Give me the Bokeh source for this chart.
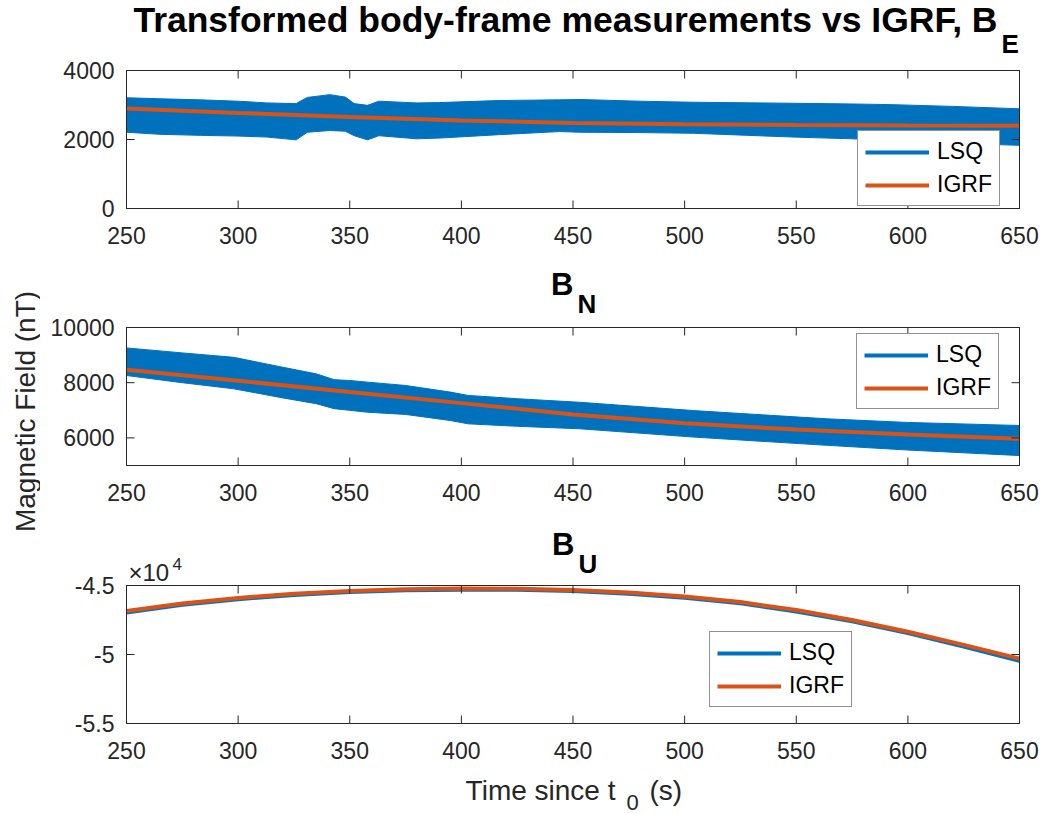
import numpy as np
from bokeh.plotting import figure
from bokeh.layouts import row, column
from bokeh.models import Label, Legend, LegendItem, Range1d, ColumnDataSource
from bokeh.embed import file_html
from bokeh.resources import INLINE

# ---------------- data ----------------
x_ticks = [250, 300, 350, 400, 450, 500, 550, 600, 650]

# B_E : LSQ envelope (upper / lower edge of the dense oscillation)
e_band_t = [250, 265, 283, 300, 313, 326, 331, 341, 348, 352, 358, 363, 380,
            390, 417, 444, 453, 480, 504, 549, 575, 593, 620, 650]
e_band_hi = [3210, 3180, 3150, 3110, 3060, 3040, 3220, 3300, 3230, 3040, 2990,
             3110, 3060, 3070, 3130, 3150, 3160, 3110, 3080, 3050, 3030, 3010,
             2960, 2890]
e_band_lo = [2210, 2150, 2120, 2100, 2070, 1990, 2210, 2260, 2240, 2110, 1990,
             2110, 2020, 2040, 2140, 2230, 2210, 2200, 2180, 2070, 2020, 1970,
             1900, 1830]
igrf_t = [250, 300, 350, 400, 450, 500, 550, 600, 650]
igrf_e = [2900, 2770, 2650, 2550, 2480, 2440, 2420, 2405, 2395]

# B_N
n_band_t = [250, 275, 298, 320, 335, 343, 350, 358, 375, 395, 403, 425, 453,
            504, 564, 600, 650]
n_band_hi = [9260, 9080, 8920, 8560, 8320, 8110, 8080, 8020, 7900, 7660, 7540,
             7420, 7290, 6990, 6690, 6560, 6450]
n_band_lo = [8260, 8000, 7780, 7450, 7240, 7060, 7000, 6930, 6850, 6630, 6510,
             6420, 6330, 6030, 5730, 5560, 5360]
igrf_n = [8470, 8070, 7660, 7260, 6850, 6530, 6300, 6120, 5970]

# B_U
u_t = [250, 275, 300, 325, 350, 375, 400, 425, 450, 475, 500, 525, 550, 575,
       600, 625, 650]
lsq_u = [-46950, -46390, -45990, -45690, -45480, -45350, -45300, -45310,
         -45400, -45590, -45880, -46290, -46880, -47600, -48450, -49420, -50450]
igrf_u = [-46850, -46300, -45900, -45600, -45400, -45270, -45220, -45230,
          -45320, -45500, -45790, -46200, -46780, -47500, -48350, -49300, -50300]

e_ticks = [0, 2000, 4000]
e_tick_labels = ["0", "2000", "4000"]
n_ticks = [6000, 8000, 10000]
n_tick_labels = ["6000", "8000", "10000"]
u_ticks = [-55000, -50000, -45000]
u_tick_labels = ["-5.5", "-5", "-4.5"]

# ---------------- styling ----------------
BLUE = "#0072BD"
ORANGE = "#D95319"
AX = "#262626"
FONT = "Liberation Sans"
TICK = 23
RIGHT_W = 1002
LEFT_W = 40
X0, X1 = 126, 1019          # page x of the axes box
XMIN, XMAX = 250, 650
FRAME_H = 138               # page height of each axes box
TICK_LEN = 8


class Panel:
    """One subplot; its drawing frame fills the whole canvas, and the axes box,
    ticks, tick labels and titles are drawn inside it."""

    def __init__(self, page_top, box_top, height, ymin, ymax):
        self.page_top = page_top
        self.page_bottom = page_top + height
        self.box_top = box_top
        self.box_bottom = box_top + FRAME_H
        self.ymin, self.ymax = ymin, ymax
        self.upp = (ymax - ymin) / FRAME_H
        self.xpp = (XMAX - XMIN) / (X1 - X0)
        p = figure(width=RIGHT_W, height=height,
                   x_range=Range1d(self.xd(LEFT_W), self.xd(LEFT_W + RIGHT_W)),
                   y_range=Range1d(self.yd(self.page_bottom), self.yd(page_top)),
                   output_backend="svg", toolbar_location=None, min_border=0)
        try:
            p.title_location = None
        except Exception:
            p.title.text = ""
        p.axis.visible = False
        p.grid.visible = False
        p.outline_line_color = None
        self.p = p

    def xd(self, px):
        return XMIN + (px - X0) * (XMAX - XMIN) / (X1 - X0)

    def yd(self, py):
        return self.ymin + (self.box_bottom - py) * (self.ymax - self.ymin) / FRAME_H

    def px_of(self, t):
        return X0 + (t - XMIN) / self.xpp

    def py_of(self, v):
        return self.box_bottom - (v - self.ymin) / self.upp

    def text(self, px, py_mid, txt, size, bold=False, align="left",
             color="#000000"):
        self.p.add_layout(Label(x=self.xd(px), y=self.yd(py_mid), text=txt,
                                text_font=FONT, text_font_size=f"{size}px",
                                text_font_style="bold" if bold else "normal",
                                text_align=align, text_baseline="middle",
                                text_color=color))

    def text_bl(self, px, py_base, txt, size, **kw):
        # place by (approximate) alphabetic baseline
        self.text(px, py_base - 0.35 * size, txt, size, **kw)

    def axes_box(self, yticks, ylabels):
        p = self.p
        n = len(x_ticks)
        m = len(yticks)
        dy = TICK_LEN * self.upp
        dx = TICK_LEN * self.xpp
        p.segment(x0=x_ticks, x1=x_ticks, y0=[self.ymax] * n,
                  y1=[self.ymax - dy] * n, line_color=AX, line_width=1)
        p.segment(x0=x_ticks, x1=x_ticks, y0=[self.ymin] * n,
                  y1=[self.ymin + dy] * n, line_color=AX, line_width=1)
        p.segment(x0=[XMIN] * m, x1=[XMIN + dx] * m, y0=yticks, y1=yticks,
                  line_color=AX, line_width=1)
        p.segment(x0=[XMAX] * m, x1=[XMAX - dx] * m, y0=yticks, y1=yticks,
                  line_color=AX, line_width=1)
        p.quad(left=[XMIN], right=[XMAX], bottom=[self.ymin], top=[self.ymax],
               fill_color=None, line_color=AX, line_width=1)
        for t in x_ticks:
            self.text(self.px_of(t), self.box_bottom + 27, str(t), TICK,
                      align="center", color=AX)
        for v, lab in zip(yticks, ylabels):
            self.text(X0 - 12, self.py_of(v), lab, TICK, align="right",
                      color=AX)

    def legend(self, r_lsq, r_igrf, left_px, bottom_px):
        loc = (left_px - LEFT_W, self.page_bottom - bottom_px)
        lg = Legend(items=[LegendItem(label="LSQ", renderers=[r_lsq]),
                           LegendItem(label="IGRF", renderers=[r_igrf])],
                    location=loc, margin=0, padding=7, spacing=6,
                    glyph_width=64, glyph_height=26, label_height=26,
                    label_standoff=8, label_text_font=FONT,
                    label_text_font_size="23px", label_text_color="#000000",
                    border_line_color=AX, border_line_width=1,
                    background_fill_color="white", background_fill_alpha=1.0)
        self.p.add_layout(lg)


# ---------------- B_E ----------------
P1 = Panel(0, 70, 262, 0, 4000)
f1 = P1.p
src_e = ColumnDataSource(dict(t=e_band_t, hi=e_band_hi, lo=e_band_lo,
                              mid=[(a + b) / 2 for a, b in zip(e_band_hi, e_band_lo)]))
f1.varea(x="t", y1="lo", y2="hi", source=src_e, fill_color=BLUE)
f1.line(x="t", y="hi", source=src_e, line_color=BLUE, line_width=1)
f1.line(x="t", y="lo", source=src_e, line_color=BLUE, line_width=1)
leg_lsq1 = f1.line(x="t", y="mid", source=src_e, line_color=BLUE, line_width=4)
r_ie = f1.line(x=igrf_t, y=igrf_e, line_color=ORANGE, line_width=4)
P1.axes_box(e_ticks, e_tick_labels)
P1.legend(leg_lsq1, r_ie, 857, 206)
P1.text_bl(997, 32, "Transformed body-frame measurements vs IGRF, B", 35.5,
           bold=True, align="right")
P1.text_bl(1001, 53, "E", 26, bold=True)

# ---------------- B_N ----------------
P2 = Panel(262, 327, 258, 5000, 10000)
f2 = P2.p
src_n = ColumnDataSource(dict(t=n_band_t, hi=n_band_hi, lo=n_band_lo,
                              mid=[(a + b) / 2 for a, b in zip(n_band_hi, n_band_lo)]))
f2.varea(x="t", y1="lo", y2="hi", source=src_n, fill_color=BLUE)
f2.line(x="t", y="hi", source=src_n, line_color=BLUE, line_width=1)
f2.line(x="t", y="lo", source=src_n, line_color=BLUE, line_width=1)
leg_lsq2 = f2.line(x="t", y="mid", source=src_n, line_color=BLUE, line_width=4)
r_in = f2.line(x=igrf_t, y=igrf_n, line_color=ORANGE, line_width=4)
P2.axes_box(n_ticks, n_tick_labels)
P2.legend(leg_lsq2, r_in, 856, 409)
P2.text_bl(573, 295, "B", 31, bold=True, align="right")
P2.text_bl(577, 313, "N", 26, bold=True)

# ---------------- B_U ----------------
P3 = Panel(520, 585, 294, -55000, -45000)
f3 = P3.p
r_lu = f3.line(x=u_t, y=lsq_u, line_color=BLUE, line_width=4)
r_iu = f3.line(x=u_t, y=igrf_u, line_color=ORANGE, line_width=4)
P3.axes_box(u_ticks, u_tick_labels)
P3.legend(r_lu, r_iu, 709, 707)
P3.text_bl(574, 555, "B", 31, bold=True, align="right")
P3.text_bl(578, 573, "U", 26, bold=True)
P3.text_bl(128, 580, "\u00d710", 24, color=AX)
P3.text_bl(172, 569, "4", 17, color=AX)
P3.text_bl(615, 800, "Time since t", 28, color=AX, align="right")
P3.text_bl(626, 810, "0", 22, color=AX)
P3.text_bl(649, 800, "(s)", 28, color=AX)

# ---------------- shared y label ----------------
yl = figure(width=LEFT_W, height=814, x_range=Range1d(0, LEFT_W),
            y_range=Range1d(0, 814), output_backend="svg",
            toolbar_location=None, min_border=0)
try:
    yl.title_location = None
except Exception:
    yl.title.text = ""
yl.axis.visible = False
yl.grid.visible = False
yl.outline_line_color = None
yl.add_layout(Label(x=25, y=814 - 411, text="Magnetic Field (nT)",
                    angle=np.pi / 2, text_align="center",
                    text_baseline="middle", text_font=FONT,
                    text_font_size="28px", text_color=AX))

layout = row(yl, column(f1, f2, f3))
open("out.html", "w").write(file_html(layout, INLINE))
